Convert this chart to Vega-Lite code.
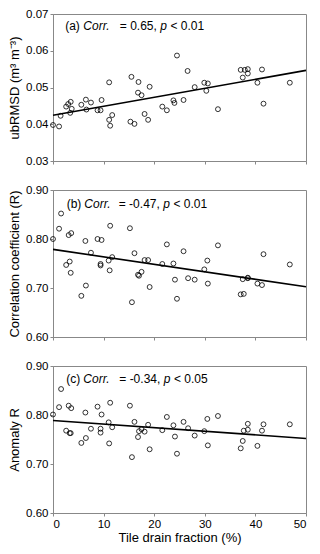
{
  "$schema": "https://vega.github.io/schema/vega-lite/v6.json",
  "padding": {"left": 8, "top": 7, "right": 10, "bottom": 4},
  "spacing": 29,
  "bounds": "flush",
  "config": {
    "font": "Liberation Sans",
    "view": {"stroke": "#888", "strokeWidth": 1},
    "axis": {
      "grid": false,
      "domainColor": "#888",
      "tickColor": "#888",
      "tickSize": 3,
      "labelFontSize": 11.5,
      "labelColor": "#000",
      "titleFontSize": 13,
      "titleFontWeight": "normal",
      "titleColor": "#000",
      "labelPadding": 2,
      "labelOverlap": false
    },
    "text": {"fontSize": 12, "color": "#000"}
  },
  "datasets": {
    "a": [
      {"x": 0, "y": 0.0398}, {"x": 1.2, "y": 0.0394}, {"x": 1.5, "y": 0.0423}, {"x": 2.6, "y": 0.0448},
      {"x": 3.0, "y": 0.0455}, {"x": 3.5, "y": 0.0461}, {"x": 3.4, "y": 0.0431}, {"x": 3.7, "y": 0.0442},
      {"x": 5.6, "y": 0.0453}, {"x": 6.5, "y": 0.0467}, {"x": 6.6, "y": 0.044}, {"x": 7.5, "y": 0.0459},
      {"x": 8.8, "y": 0.0438}, {"x": 9.4, "y": 0.0438}, {"x": 9.6, "y": 0.0466}, {"x": 11.1, "y": 0.0514},
      {"x": 11.1, "y": 0.0412}, {"x": 11.3, "y": 0.0396}, {"x": 11.7, "y": 0.0425}, {"x": 15.5, "y": 0.0529},
      {"x": 15.3, "y": 0.0407}, {"x": 16.1, "y": 0.0401}, {"x": 16.9, "y": 0.0515}, {"x": 16.8, "y": 0.0486},
      {"x": 17.5, "y": 0.0479}, {"x": 18.1, "y": 0.0428}, {"x": 18.8, "y": 0.0412}, {"x": 19.1, "y": 0.0502},
      {"x": 21.6, "y": 0.0448}, {"x": 22.5, "y": 0.0438}, {"x": 23.8, "y": 0.0465}, {"x": 24.0, "y": 0.0458},
      {"x": 24.5, "y": 0.0587}, {"x": 25.8, "y": 0.0466}, {"x": 26.6, "y": 0.0545}, {"x": 28.0, "y": 0.0501},
      {"x": 29.9, "y": 0.0513}, {"x": 30.3, "y": 0.0491}, {"x": 30.6, "y": 0.0511}, {"x": 32.6, "y": 0.0441},
      {"x": 37.1, "y": 0.0548}, {"x": 37.5, "y": 0.0527}, {"x": 37.9, "y": 0.0548}, {"x": 38.5, "y": 0.055},
      {"x": 38.5, "y": 0.0538}, {"x": 40.4, "y": 0.0513}, {"x": 41.3, "y": 0.0549}, {"x": 41.6, "y": 0.0456},
      {"x": 46.8, "y": 0.0513}
    ],
    "b": [
      {"x": 0, "y": 0.8}, {"x": 1.2, "y": 0.821}, {"x": 1.6, "y": 0.852}, {"x": 3.1, "y": 0.808},
      {"x": 3.6, "y": 0.812}, {"x": 2.6, "y": 0.747}, {"x": 3.3, "y": 0.754}, {"x": 3.5, "y": 0.731},
      {"x": 5.6, "y": 0.684}, {"x": 6.5, "y": 0.705}, {"x": 6.4, "y": 0.796}, {"x": 7.5, "y": 0.772},
      {"x": 8.8, "y": 0.8}, {"x": 9.6, "y": 0.798}, {"x": 9.4, "y": 0.749}, {"x": 9.4, "y": 0.746},
      {"x": 11.3, "y": 0.827}, {"x": 11.0, "y": 0.756}, {"x": 11.2, "y": 0.736}, {"x": 11.7, "y": 0.763},
      {"x": 15.2, "y": 0.822}, {"x": 15.6, "y": 0.671}, {"x": 16.1, "y": 0.771}, {"x": 16.8, "y": 0.727},
      {"x": 17.0, "y": 0.725}, {"x": 17.5, "y": 0.733}, {"x": 18.1, "y": 0.757}, {"x": 18.8, "y": 0.757},
      {"x": 19.1, "y": 0.702}, {"x": 21.6, "y": 0.749}, {"x": 22.5, "y": 0.789}, {"x": 23.8, "y": 0.75},
      {"x": 24.1, "y": 0.717}, {"x": 24.5, "y": 0.678}, {"x": 25.8, "y": 0.775}, {"x": 26.7, "y": 0.72},
      {"x": 28.0, "y": 0.717}, {"x": 29.9, "y": 0.738}, {"x": 30.5, "y": 0.756}, {"x": 30.6, "y": 0.709},
      {"x": 32.6, "y": 0.787}, {"x": 37.1, "y": 0.687}, {"x": 37.7, "y": 0.688}, {"x": 37.5, "y": 0.718},
      {"x": 38.5, "y": 0.721}, {"x": 38.5, "y": 0.72}, {"x": 40.4, "y": 0.709}, {"x": 41.3, "y": 0.706},
      {"x": 41.6, "y": 0.769}, {"x": 46.8, "y": 0.748}
    ],
    "c": [
      {"x": 0, "y": 0.801}, {"x": 1.2, "y": 0.816}, {"x": 1.6, "y": 0.853}, {"x": 3.1, "y": 0.819},
      {"x": 3.6, "y": 0.814}, {"x": 2.6, "y": 0.768}, {"x": 3.3, "y": 0.763}, {"x": 3.5, "y": 0.763},
      {"x": 5.6, "y": 0.743}, {"x": 6.5, "y": 0.753}, {"x": 6.4, "y": 0.805}, {"x": 7.5, "y": 0.772},
      {"x": 8.8, "y": 0.817}, {"x": 9.6, "y": 0.801}, {"x": 9.4, "y": 0.772}, {"x": 9.4, "y": 0.764},
      {"x": 11.3, "y": 0.825}, {"x": 11.0, "y": 0.785}, {"x": 11.1, "y": 0.742}, {"x": 11.7, "y": 0.775},
      {"x": 15.2, "y": 0.819}, {"x": 15.6, "y": 0.714}, {"x": 16.1, "y": 0.786}, {"x": 16.8, "y": 0.755},
      {"x": 17.0, "y": 0.767}, {"x": 17.5, "y": 0.771}, {"x": 18.1, "y": 0.766}, {"x": 18.8, "y": 0.78},
      {"x": 19.1, "y": 0.73}, {"x": 21.6, "y": 0.769}, {"x": 22.5, "y": 0.796}, {"x": 23.8, "y": 0.779},
      {"x": 24.1, "y": 0.756}, {"x": 24.5, "y": 0.721}, {"x": 25.8, "y": 0.786}, {"x": 26.7, "y": 0.773},
      {"x": 28.0, "y": 0.758}, {"x": 29.9, "y": 0.767}, {"x": 30.5, "y": 0.792}, {"x": 30.6, "y": 0.738},
      {"x": 32.6, "y": 0.798}, {"x": 37.1, "y": 0.732}, {"x": 37.5, "y": 0.747}, {"x": 37.7, "y": 0.768},
      {"x": 38.5, "y": 0.782}, {"x": 38.5, "y": 0.77}, {"x": 40.4, "y": 0.737}, {"x": 41.3, "y": 0.768},
      {"x": 41.6, "y": 0.781}, {"x": 46.8, "y": 0.781}
    ]
  },
  "vconcat": [
    {
      "width": 253, "height": 147,
      "layer": [
        {"data": {"name": "a"}, "mark": {"type": "point", "shape": "circle", "filled": false, "color": "#000", "size": 24, "strokeWidth": 0.8, "opacity": 1},
         "encoding": {
          "x": {"field": "x", "type": "quantitative", "scale": {"domain": [0, 50], "nice": false}, "axis": {"labels": false, "title": null, "values": [0, 10, 20, 30, 40, 50]}},
          "y": {"field": "y", "type": "quantitative", "scale": {"domain": [0.03, 0.07], "nice": false, "zero": false}, "axis": {"values": [0.03, 0.04, 0.05, 0.06, 0.07], "format": ".2f", "title": "ubRMSD (m³ m⁻³)"}}
         }},
        {"data": {"name": "a"}, "transform": [{"regression": "y", "on": "x", "extent": [0, 50]}], "mark": {"type": "line", "color": "#000", "strokeWidth": 1.6},
         "encoding": {
          "x": {"field": "x", "type": "quantitative", "axis": {"labels": false, "title": null, "values": [0, 10, 20, 30, 40, 50]}},
          "y": {"field": "y", "type": "quantitative", "axis": {"values": [0.03, 0.04, 0.05, 0.06, 0.07], "format": ".2f", "title": "ubRMSD (m³ m⁻³)"}}
         }},
        {"data": {"values": [{"label": "(a)"}]}, "mark": {"type": "text", "align": "left", "baseline": "middle"}, "encoding": {"x": {"datum": 2.4, "type": "quantitative", "axis": {"labels": false, "title": null, "values": [0, 10, 20, 30, 40, 50]}}, "y": {"datum": 0.0668, "type": "quantitative", "axis": {"values": [0.03, 0.04, 0.05, 0.06, 0.07], "format": ".2f", "title": "ubRMSD (m³ m⁻³)"}}, "text": {"field": "label"}}},
        {"data": {"values": [{"label": "Corr."}]}, "mark": {"type": "text", "align": "left", "baseline": "middle", "fontStyle": "italic"}, "encoding": {"x": {"datum": 6.0, "type": "quantitative", "axis": {"labels": false, "title": null, "values": [0, 10, 20, 30, 40, 50]}}, "y": {"datum": 0.0668, "type": "quantitative", "axis": {"values": [0.03, 0.04, 0.05, 0.06, 0.07], "format": ".2f", "title": "ubRMSD (m³ m⁻³)"}}, "text": {"field": "label"}}},
        {"data": {"values": [{"label": "= 0.65,"}]}, "mark": {"type": "text", "align": "left", "baseline": "middle"}, "encoding": {"x": {"datum": 13.2, "type": "quantitative", "axis": {"labels": false, "title": null, "values": [0, 10, 20, 30, 40, 50]}}, "y": {"datum": 0.0668, "type": "quantitative", "axis": {"values": [0.03, 0.04, 0.05, 0.06, 0.07], "format": ".2f", "title": "ubRMSD (m³ m⁻³)"}}, "text": {"field": "label"}}},
        {"data": {"values": [{"label": "p"}]}, "mark": {"type": "text", "align": "left", "baseline": "middle", "fontStyle": "italic"}, "encoding": {"x": {"datum": 21.2, "type": "quantitative", "axis": {"labels": false, "title": null, "values": [0, 10, 20, 30, 40, 50]}}, "y": {"datum": 0.0668, "type": "quantitative", "axis": {"values": [0.03, 0.04, 0.05, 0.06, 0.07], "format": ".2f", "title": "ubRMSD (m³ m⁻³)"}}, "text": {"field": "label"}}},
        {"data": {"values": [{"label": "< 0.01"}]}, "mark": {"type": "text", "align": "left", "baseline": "middle"}, "encoding": {"x": {"datum": 23.2, "type": "quantitative", "axis": {"labels": false, "title": null, "values": [0, 10, 20, 30, 40, 50]}}, "y": {"datum": 0.0668, "type": "quantitative", "axis": {"values": [0.03, 0.04, 0.05, 0.06, 0.07], "format": ".2f", "title": "ubRMSD (m³ m⁻³)"}}, "text": {"field": "label"}}}
      ]
    },
    {
      "width": 253, "height": 147,
      "layer": [
        {"data": {"name": "b"}, "mark": {"type": "point", "shape": "circle", "filled": false, "color": "#000", "size": 24, "strokeWidth": 0.8, "opacity": 1},
         "encoding": {
          "x": {"field": "x", "type": "quantitative", "scale": {"domain": [0, 50], "nice": false}, "axis": {"labels": false, "title": null, "values": [0, 10, 20, 30, 40, 50]}},
          "y": {"field": "y", "type": "quantitative", "scale": {"domain": [0.6, 0.9], "nice": false, "zero": false}, "axis": {"values": [0.6, 0.7, 0.8, 0.9], "format": ".2f", "title": "Correlation coefficient (R)"}}
         }},
        {"data": {"name": "b"}, "transform": [{"regression": "y", "on": "x", "extent": [0, 50]}], "mark": {"type": "line", "color": "#000", "strokeWidth": 1.6},
         "encoding": {
          "x": {"field": "x", "type": "quantitative", "axis": {"labels": false, "title": null, "values": [0, 10, 20, 30, 40, 50]}},
          "y": {"field": "y", "type": "quantitative", "axis": {"values": [0.6, 0.7, 0.8, 0.9], "format": ".2f", "title": "Correlation coefficient (R)"}}
         }},
        {"data": {"values": [{"label": "(b)"}]}, "mark": {"type": "text", "align": "left", "baseline": "middle"}, "encoding": {"x": {"datum": 2.7, "type": "quantitative", "axis": {"labels": false, "title": null, "values": [0, 10, 20, 30, 40, 50]}}, "y": {"datum": 0.871, "type": "quantitative", "axis": {"values": [0.6, 0.7, 0.8, 0.9], "format": ".2f", "title": "Correlation coefficient (R)"}}, "text": {"field": "label"}}},
        {"data": {"values": [{"label": "Corr."}]}, "mark": {"type": "text", "align": "left", "baseline": "middle", "fontStyle": "italic"}, "encoding": {"x": {"datum": 6.2, "type": "quantitative", "axis": {"labels": false, "title": null, "values": [0, 10, 20, 30, 40, 50]}}, "y": {"datum": 0.871, "type": "quantitative", "axis": {"values": [0.6, 0.7, 0.8, 0.9], "format": ".2f", "title": "Correlation coefficient (R)"}}, "text": {"field": "label"}}},
        {"data": {"values": [{"label": "= -0.47,"}]}, "mark": {"type": "text", "align": "left", "baseline": "middle"}, "encoding": {"x": {"datum": 13.0, "type": "quantitative", "axis": {"labels": false, "title": null, "values": [0, 10, 20, 30, 40, 50]}}, "y": {"datum": 0.871, "type": "quantitative", "axis": {"values": [0.6, 0.7, 0.8, 0.9], "format": ".2f", "title": "Correlation coefficient (R)"}}, "text": {"field": "label"}}},
        {"data": {"values": [{"label": "p"}]}, "mark": {"type": "text", "align": "left", "baseline": "middle", "fontStyle": "italic"}, "encoding": {"x": {"datum": 21.8, "type": "quantitative", "axis": {"labels": false, "title": null, "values": [0, 10, 20, 30, 40, 50]}}, "y": {"datum": 0.871, "type": "quantitative", "axis": {"values": [0.6, 0.7, 0.8, 0.9], "format": ".2f", "title": "Correlation coefficient (R)"}}, "text": {"field": "label"}}},
        {"data": {"values": [{"label": "< 0.01"}]}, "mark": {"type": "text", "align": "left", "baseline": "middle"}, "encoding": {"x": {"datum": 23.8, "type": "quantitative", "axis": {"labels": false, "title": null, "values": [0, 10, 20, 30, 40, 50]}}, "y": {"datum": 0.871, "type": "quantitative", "axis": {"values": [0.6, 0.7, 0.8, 0.9], "format": ".2f", "title": "Correlation coefficient (R)"}}, "text": {"field": "label"}}}
      ]
    },
    {
      "width": 253, "height": 147,
      "layer": [
        {"data": {"name": "c"}, "mark": {"type": "point", "shape": "circle", "filled": false, "color": "#000", "size": 24, "strokeWidth": 0.8, "opacity": 1},
         "encoding": {
          "x": {"field": "x", "type": "quantitative", "scale": {"domain": [0, 50], "nice": false}, "axis": {"title": "Tile drain fraction (%)", "values": [0, 10, 20, 30, 40, 50], "titlePadding": 2}},
          "y": {"field": "y", "type": "quantitative", "scale": {"domain": [0.6, 0.9], "nice": false, "zero": false}, "axis": {"values": [0.6, 0.7, 0.8, 0.9], "format": ".2f", "title": "Anomaly R"}}
         }},
        {"data": {"name": "c"}, "transform": [{"regression": "y", "on": "x", "extent": [0, 50]}], "mark": {"type": "line", "color": "#000", "strokeWidth": 1.6},
         "encoding": {
          "x": {"field": "x", "type": "quantitative", "axis": {"title": "Tile drain fraction (%)", "values": [0, 10, 20, 30, 40, 50], "titlePadding": 2}},
          "y": {"field": "y", "type": "quantitative", "axis": {"values": [0.6, 0.7, 0.8, 0.9], "format": ".2f", "title": "Anomaly R"}}
         }},
        {"data": {"values": [{"label": "(c)"}]}, "mark": {"type": "text", "align": "left", "baseline": "middle"}, "encoding": {"x": {"datum": 2.6, "type": "quantitative", "axis": {"title": "Tile drain fraction (%)", "values": [0, 10, 20, 30, 40, 50], "titlePadding": 2}}, "y": {"datum": 0.873, "type": "quantitative", "axis": {"values": [0.6, 0.7, 0.8, 0.9], "format": ".2f", "title": "Anomaly R"}}, "text": {"field": "label"}}},
        {"data": {"values": [{"label": "Corr."}]}, "mark": {"type": "text", "align": "left", "baseline": "middle", "fontStyle": "italic"}, "encoding": {"x": {"datum": 6.0, "type": "quantitative", "axis": {"title": "Tile drain fraction (%)", "values": [0, 10, 20, 30, 40, 50], "titlePadding": 2}}, "y": {"datum": 0.873, "type": "quantitative", "axis": {"values": [0.6, 0.7, 0.8, 0.9], "format": ".2f", "title": "Anomaly R"}}, "text": {"field": "label"}}},
        {"data": {"values": [{"label": "= -0.34,"}]}, "mark": {"type": "text", "align": "left", "baseline": "middle"}, "encoding": {"x": {"datum": 13.1, "type": "quantitative", "axis": {"title": "Tile drain fraction (%)", "values": [0, 10, 20, 30, 40, 50], "titlePadding": 2}}, "y": {"datum": 0.873, "type": "quantitative", "axis": {"values": [0.6, 0.7, 0.8, 0.9], "format": ".2f", "title": "Anomaly R"}}, "text": {"field": "label"}}},
        {"data": {"values": [{"label": "p"}]}, "mark": {"type": "text", "align": "left", "baseline": "middle", "fontStyle": "italic"}, "encoding": {"x": {"datum": 21.9, "type": "quantitative", "axis": {"title": "Tile drain fraction (%)", "values": [0, 10, 20, 30, 40, 50], "titlePadding": 2}}, "y": {"datum": 0.873, "type": "quantitative", "axis": {"values": [0.6, 0.7, 0.8, 0.9], "format": ".2f", "title": "Anomaly R"}}, "text": {"field": "label"}}},
        {"data": {"values": [{"label": "< 0.05"}]}, "mark": {"type": "text", "align": "left", "baseline": "middle"}, "encoding": {"x": {"datum": 23.9, "type": "quantitative", "axis": {"title": "Tile drain fraction (%)", "values": [0, 10, 20, 30, 40, 50], "titlePadding": 2}}, "y": {"datum": 0.873, "type": "quantitative", "axis": {"values": [0.6, 0.7, 0.8, 0.9], "format": ".2f", "title": "Anomaly R"}}, "text": {"field": "label"}}}
      ]
    }
  ]
}
